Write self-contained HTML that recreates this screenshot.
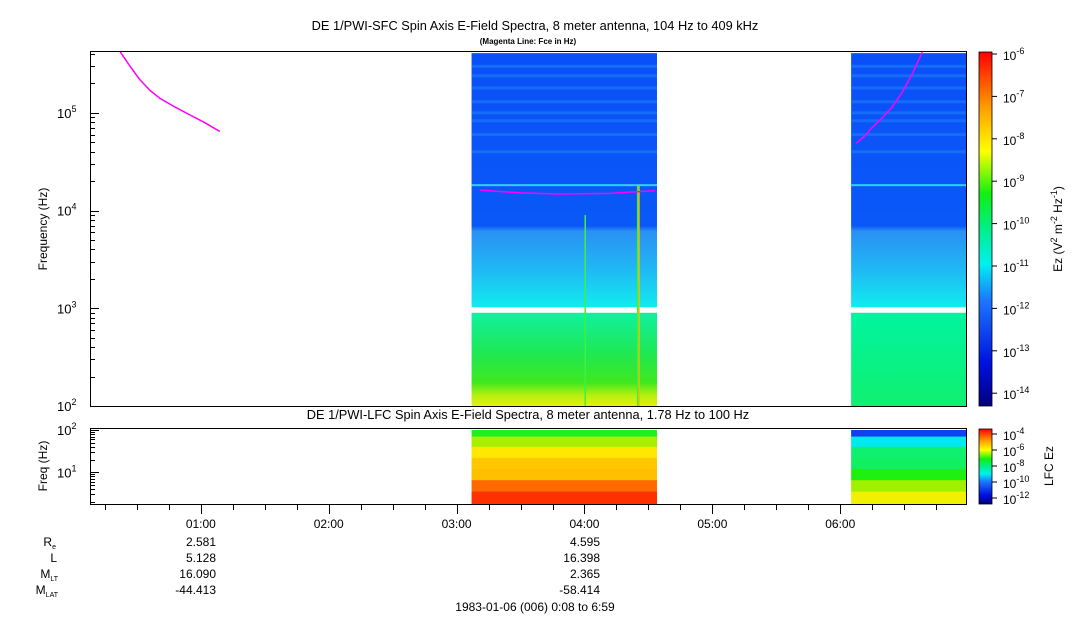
<!DOCTYPE html>
<html><head><meta charset="utf-8"><style>
body{margin:0;background:#fff;width:1083px;height:620px;overflow:hidden;font-family:"Liberation Sans",sans-serif}
svg text{font-family:"Liberation Sans",sans-serif;fill:#000}
</style></head><body>
<svg id="c" width="1083" height="620" xmlns="http://www.w3.org/2000/svg">
<defs>
<linearGradient id="jet" x1="0" y1="1" x2="0" y2="0">
<stop offset="0" stop-color="#00007f"/><stop offset="0.12" stop-color="#0010e0"/><stop offset="0.3" stop-color="#1c78ff"/><stop offset="0.4" stop-color="#00f0f0"/><stop offset="0.5" stop-color="#00f08a"/><stop offset="0.6" stop-color="#10f010"/><stop offset="0.72" stop-color="#ffff00"/><stop offset="0.84" stop-color="#ffa000"/><stop offset="1" stop-color="#ff0000"/>
</linearGradient>
<linearGradient id="up1" x1="0" y1="0" x2="0" y2="1">
<stop offset="0" stop-color="#0a50f8"/><stop offset="0.68" stop-color="#0a58f8"/><stop offset="0.7" stop-color="#2a90f4"/><stop offset="0.85" stop-color="#20b8f4"/><stop offset="1" stop-color="#10ecf0"/>
</linearGradient>
<linearGradient id="lo1" x1="0" y1="0" x2="0" y2="1">
<stop offset="0" stop-color="#10f0a0"/><stop offset="0.45" stop-color="#20e850"/><stop offset="0.75" stop-color="#40e820"/><stop offset="0.88" stop-color="#b0f010"/><stop offset="1" stop-color="#e8f010"/>
</linearGradient>
<linearGradient id="lo2" x1="0" y1="0" x2="0" y2="1">
<stop offset="0" stop-color="#00f4a0"/><stop offset="1" stop-color="#10f070"/>
</linearGradient>
</defs>
<g id="plot"></g>
</svg>
<script>
// ---- data ----
const blockStarts = [3.117, 6.085];           // hours
const blockEnds   = [4.567, 6.99];
const fceTimes0 = [0.367, 0.445, 0.523, 0.602, 0.680, 0.797, 0.914, 1.031, 1.148];
const fceFreqs0 = [427000, 302000, 219000, 170000, 141000, 115000, 95500, 79400, 64600];
const fceTimes1 = [3.18, 3.5, 3.8, 4.2, 4.55];
const fceFreqs1 = [16200, 15200, 14800, 15000, 16000];
const fceTimes2 = [6.125, 6.188, 6.25, 6.328, 6.406, 6.484, 6.563, 6.641];
const fceFreqs2 = [49000, 57500, 71000, 89100, 115000, 162000, 251000, 417000];
const lfcRowFreqs = [100, 70, 40, 22, 12, 6.5, 3.5, 1.78];
const lfcColors0 = ['#20f020','#a8f000','#ffe800','#ffc800','#ffc000','#ff6a00','#ff3000','#ff1000'];
const lfcColors1 = ['#1040f0','#00e8f0','#10f070','#10f060','#20f010','#a0f000','#f0f000','#f0f000'];
const bandFreqs = [300000, 240000, 180000, 130000, 100000, 83000, 60000, 40000, 18000];
const tickHours = ['01:00','02:00','03:00','04:00','05:00','06:00'];
// ---- axes ----
const X0=90, X1=966, T0=8/60, T1=6+59/60;
const x = t => X0 + (t-T0)/(T1-T0)*(X1-X0);
const yU = f => 406 - (Math.log10(f)-2)*97.7;
const yL = f => Math.min(504, 430 + (2-Math.log10(f))*42.3);
const NS='http://www.w3.org/2000/svg';
const g=document.getElementById('plot');
function mk(tag,a,parent){const e=document.createElementNS(NS,tag);for(const k in a)e.setAttribute(k,a[k]);(parent||g).appendChild(e);return e;}
function txt(s,a){const e=mk('text',a);e.textContent=s;return e;}

blockStarts.forEach((t,i)=>{
  const xa=x(t), xb=x(blockEnds[i]);
  let r=mk('rect',{x:xa,y:yU(409000),width:xb-xa,height:yU(1000)-1-yU(409000),fill:'url(#up1)'});
  
  
  bandFreqs.forEach(f=>{
    let b=mk('rect',{x:xa,y:yU(f)-1.5,width:xb-xa,height:f===18000?2:3,fill:f===18000?'#30d0f8':'#1a78f8',opacity:f===18000?1:0.7});
    
    
  });
  r=mk('rect',{x:xa,y:yU(900),width:xb-xa,height:406-yU(900),fill:i===0?'url(#lo1)':'url(#lo2)'});
  
  
  const cols=i===0?lfcColors0:lfcColors1;
  for(let k=0;k<lfcRowFreqs.length-1;k++){
    const ya=yL(lfcRowFreqs[k]), yb=(k==lfcRowFreqs.length-2)?504:yL(lfcRowFreqs[k+1]);
    const lr=mk('rect',{x:xa,y:ya,width:xb-xa,height:yb-ya+0.5,fill:cols[k]});
    
    
  }
});
[[4.42,'#f0c000'],[4.41,'#40f040'],[4.0,'#40f040']].forEach(([t,c],i)=>{
  const l=mk('rect',{x:x(t),y:i==2?yU(9000):yU(18000),width:1.5,height:i==2?406-yU(9000):406-yU(18000),fill:c});
  
  
});
[[fceTimes0,fceFreqs0],[fceTimes1,fceFreqs1],[fceTimes2,fceFreqs2]].forEach(([ts,fs],i)=>{
  const p=mk('polyline',{points:ts.map((t,k)=>x(t)+','+yU(fs[k])).join(' '),fill:'none',stroke:'#ff00ff','stroke-width':1.5,'stroke-linejoin':'round'});
  
  
});
mk('rect',{x:80,y:40,width:900,height:11.5,fill:'#fff'});
let f1=mk('rect',{x:90.5,y:51.5,width:876,height:355,fill:'none',stroke:'#000'});

let f2=mk('rect',{x:90.5,y:428.5,width:876,height:76,fill:'none',stroke:'#000'});

for(let d=2;d<=5;d++){
  for(let m=1;m<10;m++){const f=m*Math.pow(10,d);if(f>409000)break;const yy=Math.round(yU(f))+0.5;
    mk('line',{x1:91,x2:m==1?99:95,y1:yy,y2:yy,stroke:'#000'});}
  const t=txt('10',{x:57,y:yU(Math.pow(10,d))+5,'font-size':13});
  const s=mk('tspan',{dy:-6,'font-size':9},t);s.textContent=d;
}
for(let d=0;d<=2;d++){for(let m=1;m<10;m++){const f=m*Math.pow(10,d);if(f<1.78||f>100)continue;const yy=Math.round(yL(f))+0.5;
  mk('line',{x1:91,x2:m==1?99:95,y1:yy,y2:yy,stroke:'#000'});}}
[[2,'2'],[1,'1']].forEach(([d,s])=>{const t=txt('10',{x:57,y:yL(Math.pow(10,d))+5,'font-size':13});const sp=mk('tspan',{dy:-6,'font-size':9},t);sp.textContent=s;});
for(let q=1;q<=27;q++){const t=q/4;if(t<T0||t>T1)continue;const xx=Math.round(x(t))+0.5;mk('line',{x1:xx,x2:xx,y1:505,y2:q%4==0?514:510,stroke:'#000'});}
tickHours.forEach((s,i)=>{const e=txt(s,{x:x(i+1),y:528,'font-size':12,'text-anchor':'middle'});
  });
let cb=mk('rect',{x:979,y:52,width:13,height:354,fill:'url(#jet)',stroke:'#000','stroke-width':0.8});

let cb2=mk('rect',{x:979,y:429,width:13,height:75,fill:'url(#jet)',stroke:'#000','stroke-width':0.8});

const cbExp=['-6','-7','-8','-9','-10','-11','-12','-13','-14'];
cbExp.forEach((s,i)=>{const yy=54+i*42.4;mk('line',{x1:992,x2:997,y1:yy,y2:yy,stroke:'#000'});
  const t=txt('10',{x:1003,y:yy+6,'font-size':12});const sp=mk('tspan',{dy:-6,'font-size':9},t);sp.textContent=s;});
['-4','-6','-8','-10','-12'].forEach((s,i)=>{const yy=434+i*16;mk('line',{x1:992,x2:997,y1:yy,y2:yy,stroke:'#000'});
  const t=txt('10',{x:1003,y:yy+6,'font-size':12});const sp=mk('tspan',{dy:-6,'font-size':9},t);sp.textContent=s;});
</script>
<svg style="position:absolute;left:0;top:0" width="1083" height="620" xmlns="http://www.w3.org/2000/svg">
<text x="535" y="30" font-size="12.8" text-anchor="middle">DE 1/PWI-SFC  Spin Axis E-Field Spectra, 8 meter antenna, 104 Hz to 409 kHz</text>
<text x="528" y="44" font-size="8" font-weight="bold" text-anchor="middle">(Magenta Line: Fce in Hz)</text>
<text x="528" y="419" font-size="12.8" text-anchor="middle">DE 1/PWI-LFC  Spin Axis E-Field Spectra, 8 meter antenna, 1.78 Hz to 100 Hz</text>
<text transform="translate(47,229) rotate(-90)" font-size="12" text-anchor="middle">Frequency (Hz)</text>
<text transform="translate(47,466) rotate(-90)" font-size="12" text-anchor="middle">Freq (Hz)</text>
<text transform="translate(1062,229) rotate(-90)" font-size="12" text-anchor="middle">Ez (V<tspan dy="-5" font-size="9">2</tspan><tspan dy="5"> m</tspan><tspan dy="-5" font-size="9">-2</tspan><tspan dy="5"> Hz</tspan><tspan dy="-5" font-size="9">-1</tspan><tspan dy="5">)</tspan></text>
<text transform="translate(1053,466) rotate(-90)" font-size="12" text-anchor="middle">LFC Ez</text>
<g font-size="12" text-anchor="end">
<text x="56" y="546">R<tspan font-size="7" dy="3">e</tspan></text>
<text x="57" y="562">L</text>
<text x="58" y="578">M<tspan font-size="7" dy="3">LT</tspan></text>
<text x="58" y="594">M<tspan font-size="7" dy="3">LAT</tspan></text>
<text x="216" y="546">2.581</text><text x="216" y="562">5.128</text><text x="216" y="578">16.090</text><text x="216" y="594">-44.413</text>
<text x="600" y="546">4.595</text><text x="600" y="562">16.398</text><text x="600" y="578">2.365</text><text x="600" y="594">-58.414</text>
</g>
<text x="535" y="611" font-size="12" text-anchor="middle">1983-01-06 (006) 0:08 to 6:59</text>
</svg>
</body></html>
